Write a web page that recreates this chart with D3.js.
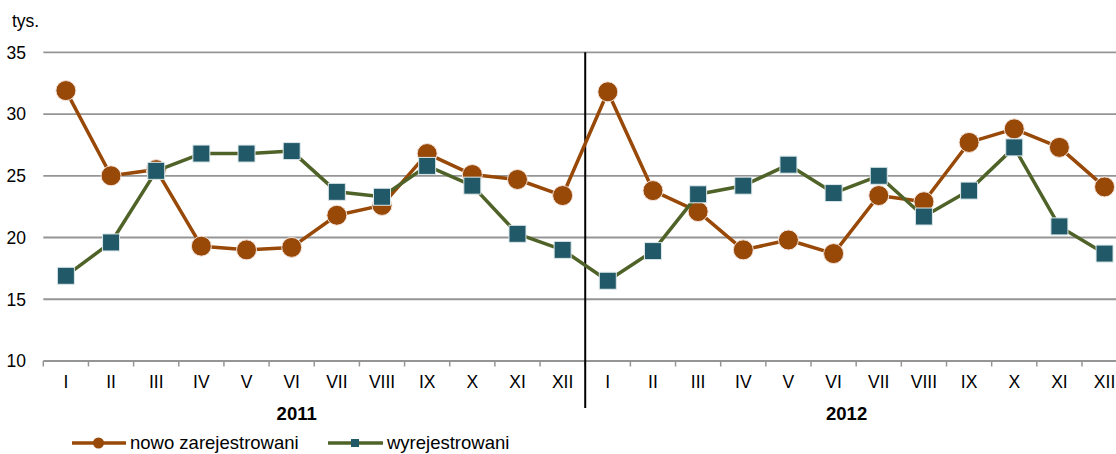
<!DOCTYPE html>
<html>
<head>
<meta charset="utf-8">
<script src="https://cdn.jsdelivr.net/npm/d3@7"></script>
<style>
  body { margin: 0; background: #fff; }
  svg { display: block; font-family: "Liberation Sans", Arial, sans-serif; }
</style>
</head>
<body>
<div id="chart"></div>
<script>
// Data (thousands)
const months = ["I", "II", "III", "IV", "V", "VI", "VII", "VIII", "IX", "X", "XI", "XII"];
const years = ["2011", "2012"];
const nowoZarejestrowani = [31.9, 25.0, 25.5, 19.3, 19.0, 19.2, 21.8, 22.6, 26.8, 25.1, 24.7, 23.4,
                            31.8, 23.8, 22.1, 19.0, 19.8, 18.7, 23.4, 22.9, 27.7, 28.8, 27.3, 24.1];
const wyrejestrowani = [16.9, 19.6, 25.4, 26.8, 26.8, 27.0, 23.7, 23.3, 25.8, 24.2, 20.3, 19.0,
                        16.5, 18.9, 23.5, 24.2, 25.9, 23.6, 25.0, 21.7, 23.8, 27.3, 20.9, 18.7];
const yTicks = [10, 15, 20, 25, 30, 35];
const seriesNames = ["nowo zarejestrowani", "wyrejestrowani"];

const W = 1116, H = 454;
const plotLeft = 43.3, bandW = 45.16;
const plotTop = 52.3, plotBottom = 361;

// one key per month of both years
const keys = [];
years.forEach(yr => months.forEach(m => keys.push(yr + "-" + m)));

const x = d3.scaleBand()
    .domain(keys)
    .range([plotLeft, plotLeft + bandW * keys.length]);

const y = d3.scaleLinear()
    .domain([10, 35])
    .range([plotBottom, plotTop]);

const svg = d3.select("#chart").append("svg")
    .attr("width", W)
    .attr("height", H);

// Gridlines
svg.append("g")
    .selectAll("line")
    .data(yTicks.filter(t => t > 10))
    .enter().append("line")
    .attr("x1", plotLeft).attr("x2", W)
    .attr("y1", d => y(d)).attr("y2", d => y(d))
    .attr("stroke", "#959595")
    .attr("stroke-width", 1.8);

// Y axis labels
svg.append("g")
    .selectAll("text")
    .data(yTicks)
    .enter().append("text")
    .attr("x", 26)
    .attr("y", d => y(d))
    .attr("dy", "0.36em")
    .attr("text-anchor", "end")
    .attr("font-size", 17.5)
    .attr("fill", "#000")
    .text(d => d);

svg.append("text")
    .attr("x", 12).attr("y", 27)
    .attr("font-size", 17.5)
    .text("tys.");

// X axis
const xAxis = svg.append("g")
    .attr("transform", `translate(0,${plotBottom})`)
    .call(d3.axisBottom(x).tickSize(0).tickFormat(d => d.split("-")[1]));
xAxis.select(".domain").remove();
xAxis.selectAll("text")
    .attr("font-size", 17.5)
    .attr("font-family", "Liberation Sans, Arial, sans-serif")
    .attr("fill", "#000")
    .attr("y", 21)
    .attr("dy", "0.36em");

svg.append("line")
    .attr("x1", plotLeft).attr("x2", W)
    .attr("y1", plotBottom).attr("y2", plotBottom)
    .attr("stroke", "#959595")
    .attr("stroke-width", 1.8);

// tick marks between categories
svg.append("g")
    .selectAll("line")
    .data(keys)
    .enter().append("line")
    .attr("x1", d => x(d)).attr("x2", d => x(d))
    .attr("y1", plotBottom).attr("y2", plotBottom + 5.5)
    .attr("stroke", "#959595")
    .attr("stroke-width", 1.5);

// Year labels
svg.append("g")
    .selectAll("text")
    .data(years)
    .enter().append("text")
    .attr("x", (d, i) => x(d + "-VI") + bandW / 2 + (i === 0 ? 5 : 13))
    .attr("y", 413)
    .attr("dy", "0.36em")
    .attr("text-anchor", "middle")
    .attr("font-size", 18.5)
    .attr("font-weight", "bold")
    .text(d => d);

// Separator between years
svg.append("line")
    .attr("x1", x("2012-I")).attr("x2", x("2012-I"))
    .attr("y1", plotTop).attr("y2", 408)
    .attr("stroke", "#000")
    .attr("stroke-width", 2);

const line = d3.line()
    .x((d, i) => x(keys[i]) + x.bandwidth() / 2)
    .y(d => y(d));

const orange = "#984807", green = "#4f6228", teal = "#215968";

// Series 1: circles
svg.append("path")
    .datum(nowoZarejestrowani)
    .attr("d", line)
    .attr("fill", "none")
    .attr("stroke", orange)
    .attr("stroke-width", 3.5)
    .attr("stroke-linejoin", "round");

svg.append("g")
    .selectAll("circle")
    .data(nowoZarejestrowani)
    .enter().append("circle")
    .attr("cx", (d, i) => x(keys[i]) + x.bandwidth() / 2)
    .attr("cy", d => y(d))
    .attr("r", 10)
    .attr("fill", orange)
    .attr("stroke", "#f4e4dc")
    .attr("stroke-width", 1);

// Series 2: squares
svg.append("path")
    .datum(wyrejestrowani)
    .attr("d", line)
    .attr("fill", "none")
    .attr("stroke", green)
    .attr("stroke-width", 3.5)
    .attr("stroke-linejoin", "round");

const sq = 17;
svg.append("g")
    .selectAll("rect")
    .data(wyrejestrowani)
    .enter().append("rect")
    .attr("x", (d, i) => x(keys[i]) + x.bandwidth() / 2 - sq / 2)
    .attr("y", d => y(d) - sq / 2)
    .attr("width", sq)
    .attr("height", sq)
    .attr("fill", teal)
    .attr("stroke", "#dde8ea")
    .attr("stroke-width", 1);

// Legend
const legend = svg.append("g").attr("transform", "translate(0,443)");

legend.append("line")
    .attr("x1", 72).attr("x2", 126).attr("y1", 0).attr("y2", 0)
    .attr("stroke", orange).attr("stroke-width", 3.5);
legend.append("circle")
    .attr("cx", 98.5).attr("cy", 0).attr("r", 5.5)
    .attr("fill", orange);
legend.append("text")
    .attr("x", 130).attr("y", 0).attr("dy", "0.32em")
    .attr("font-size", 18.5)
    .text(seriesNames[0]);

legend.append("line")
    .attr("x1", 328).attr("x2", 383).attr("y1", 0).attr("y2", 0)
    .attr("stroke", green).attr("stroke-width", 3.5);
legend.append("rect")
    .attr("x", 351).attr("y", -4).attr("width", 8).attr("height", 8)
    .attr("fill", teal);
legend.append("text")
    .attr("x", 387).attr("y", 0).attr("dy", "0.32em")
    .attr("font-size", 18.5)
    .text(seriesNames[1]);
</script>
</body>
</html>
